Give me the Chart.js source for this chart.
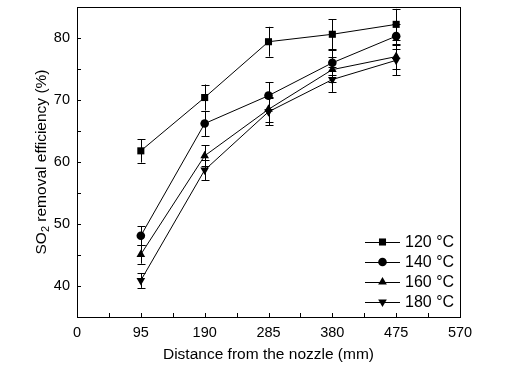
<!DOCTYPE html>
<html>
<head>
<meta charset="utf-8">
<script src="https://cdn.jsdelivr.net/npm/chart.js@4.4.1/dist/chart.umd.min.js"></script>
<style>
  html, body { margin: 0; padding: 0; background: #fff; }
  #wrap { width: 509px; height: 372px; }
</style>
</head>
<body>
<div id="wrap"><canvas id="chart"></canvas></div>
<script>
// ---- datos ----
const distancias = [95, 190, 285, 380, 475];
const etiquetas = ["120 °C", "140 °C", "160 °C", "180 °C"];

const ef120 = [61.8, 70.4, 79.4, 80.6, 82.2];
const ef140 = [48.1, 66.2, 70.7, 76.0, 80.3];
const ef160 = [45.1, 61.0, 68.5, 74.9, 77.0];
const ef180 = [40.9, 58.7, 68.1, 73.3, 76.4];

const err120 = [1.9, 2.1, 2.4, 2.4, 2.5];
const err140 = [1.5, 2.0, 2.2, 2.0, 2.0];
const err160 = [1.5, 1.7, 2.0, 2.0, 2.0];
const err180 = [1.2, 1.6, 2.2, 2.0, 2.4];

const xTicks = [0, 95, 190, 285, 380, 475, 570];
const yTicks = [40, 50, 60, 70, 80];

const FUENTE = "'Liberation Sans', Arial, sans-serif";

function serie(valores, errores) {
    return distancias.map((d, i) => ({ x: d, y: valores[i], e: errores[i] }));
}

const estilos = [
    { pointStyle: "rect", rotation: 0, radius: 5 },
    { pointStyle: "circle", rotation: 0, radius: 4.3 },
    { pointStyle: "triangle", rotation: 0, radius: 5 },
    { pointStyle: "triangle", rotation: 180, radius: 5 }
];

const datasets = [
    serie(ef120, err120),
    serie(ef140, err140),
    serie(ef160, err160),
    serie(ef180, err180)
].map((datos, i) => ({
    label: etiquetas[i],
    data: datos,
    borderColor: "#000",
    backgroundColor: "#000",
    borderWidth: 1,
    pointStyle: estilos[i].pointStyle,
    pointRotation: estilos[i].rotation,
    pointRadius: estilos[i].radius,
    pointBorderWidth: 0,
    tension: 0
}));

// -------------------------------
// Barras de error
// -------------------------------
const barrasError = {
    id: "barrasError",
    beforeDatasetsDraw(chart) {
        const { ctx } = chart;
        const xs = chart.scales.x, ys = chart.scales.y;
        ctx.save();
        ctx.strokeStyle = "#000";
        ctx.lineWidth = 1;
        chart.data.datasets.forEach(ds => {
            ds.data.forEach(p => {
                const x = Math.round(xs.getPixelForValue(p.x)) + 0.5;
                const y1 = ys.getPixelForValue(p.y + p.e);
                const y2 = ys.getPixelForValue(p.y - p.e);
                ctx.beginPath();
                ctx.moveTo(x, y1); ctx.lineTo(x, y2);
                ctx.moveTo(x - 4, Math.round(y1) + 0.5); ctx.lineTo(x + 4, Math.round(y1) + 0.5);
                ctx.moveTo(x - 4, Math.round(y2) + 0.5); ctx.lineTo(x + 4, Math.round(y2) + 0.5);
                ctx.stroke();
            });
        });
        ctx.restore();
    }
};

// -------------------------------
// Marco, ticks hacia dentro, titulo Y y leyenda
// -------------------------------
const marco = {
    id: "marco",
    afterDraw(chart) {
        const { ctx, chartArea: a } = chart;
        const xs = chart.scales.x, ys = chart.scales.y;
        ctx.save();
        ctx.strokeStyle = "#000";
        ctx.lineWidth = 1;
        ctx.strokeRect(Math.round(a.left) + 0.5, Math.round(a.top) + 0.5,
            Math.round(a.right - a.left), Math.round(a.bottom - a.top));

        // ticks menores y mayores
        ctx.beginPath();
        for (let v = 0; v <= 570; v += 47.5) {
            const x = Math.round(xs.getPixelForValue(v)) + 0.5;
            ctx.moveTo(x, a.bottom); ctx.lineTo(x, a.bottom - 4);
        }
        for (let v = 35; v <= 85; v += 5) {
            const y = Math.round(ys.getPixelForValue(v)) + 0.5;
            ctx.moveTo(a.left, y); ctx.lineTo(a.left + 4, y);
        }
        ctx.stroke();

        // titulo eje Y con subindice
        ctx.fillStyle = "#000";
        ctx.translate(42, 162);
        ctx.rotate(-Math.PI / 2);
        ctx.textBaseline = "middle";
        const f1 = "15.5px " + FUENTE, f2 = "11px " + FUENTE;
        const t1 = "SO", t2 = "2", t3 = " removal efficiency (%)";
        ctx.font = f1;
        const w1 = ctx.measureText(t1).width, w3 = ctx.measureText(t3).width;
        ctx.font = f2;
        const w2 = ctx.measureText(t2).width;
        let px = -(w1 + w2 + w3) / 2;
        ctx.font = f1; ctx.textAlign = "left";
        ctx.fillText(t1, px, 0); px += w1;
        ctx.font = f2; ctx.fillText(t2, px, 4); px += w2;
        ctx.font = f1; ctx.fillText(t3, px, 0);
        ctx.restore();

        // leyenda
        ctx.save();
        ctx.font = "16px " + FUENTE;
        ctx.textBaseline = "middle";
        ctx.fillStyle = "#000";
        ctx.strokeStyle = "#000";
        chart.data.datasets.forEach((ds, i) => {
            const y = a.bottom - 75 + i * 20;
            const x0 = a.right - 95;
            ctx.beginPath();
            ctx.moveTo(x0, y + 0.5); ctx.lineTo(x0 + 35, y + 0.5);
            ctx.stroke();
            Chart.helpers.drawPoint(ctx, {
                pointStyle: ds.pointStyle,
                rotation: ds.pointRotation,
                radius: ds.pointRadius,
                borderWidth: 0
            }, x0 + 17.5, y);
            ctx.fillText(ds.label, x0 + 40, y + 1);
        });
        ctx.restore();
    }
};

new Chart(document.getElementById("chart"), {
    type: "line",
    data: { datasets: datasets },
    options: {
        responsive: true,
        maintainAspectRatio: false,
        animation: false,
        layout: { padding: { top: 7, right: 49, left: 0, bottom: 8 } },
        scales: {
            x: {
                type: "linear",
                min: 0,
                max: 570,
                afterBuildTicks: s => { s.ticks = xTicks.map(v => ({ value: v })); },
                afterFit: s => { s.height = 47; s.paddingLeft = 0; s.paddingRight = 0; },
                grid: { display: false, drawTicks: false },
                border: { display: false },
                ticks: { color: "#000", font: { size: 14.5, family: FUENTE }, padding: 7, maxRotation: 0 },
                title: {
                    display: true,
                    text: "Distance from the nozzle (mm)",
                    color: "#000",
                    font: { size: 15.5, family: FUENTE },
                    padding: { top: 6, bottom: 0 }
                }
            },
            y: {
                min: 35,
                max: 85,
                afterBuildTicks: s => { s.ticks = yTicks.map(v => ({ value: v })); },
                afterFit: s => { s.width = 77; s.paddingTop = 0; s.paddingBottom = 0; },
                grid: { display: false, drawTicks: false },
                border: { display: false },
                ticks: { color: "#000", font: { size: 14.5, family: FUENTE }, padding: 7 }
            }
        },
        plugins: {
            legend: { display: false },
            tooltip: { enabled: false }
        }
    },
    plugins: [barrasError, marco]
});
</script>
</body>
</html>
